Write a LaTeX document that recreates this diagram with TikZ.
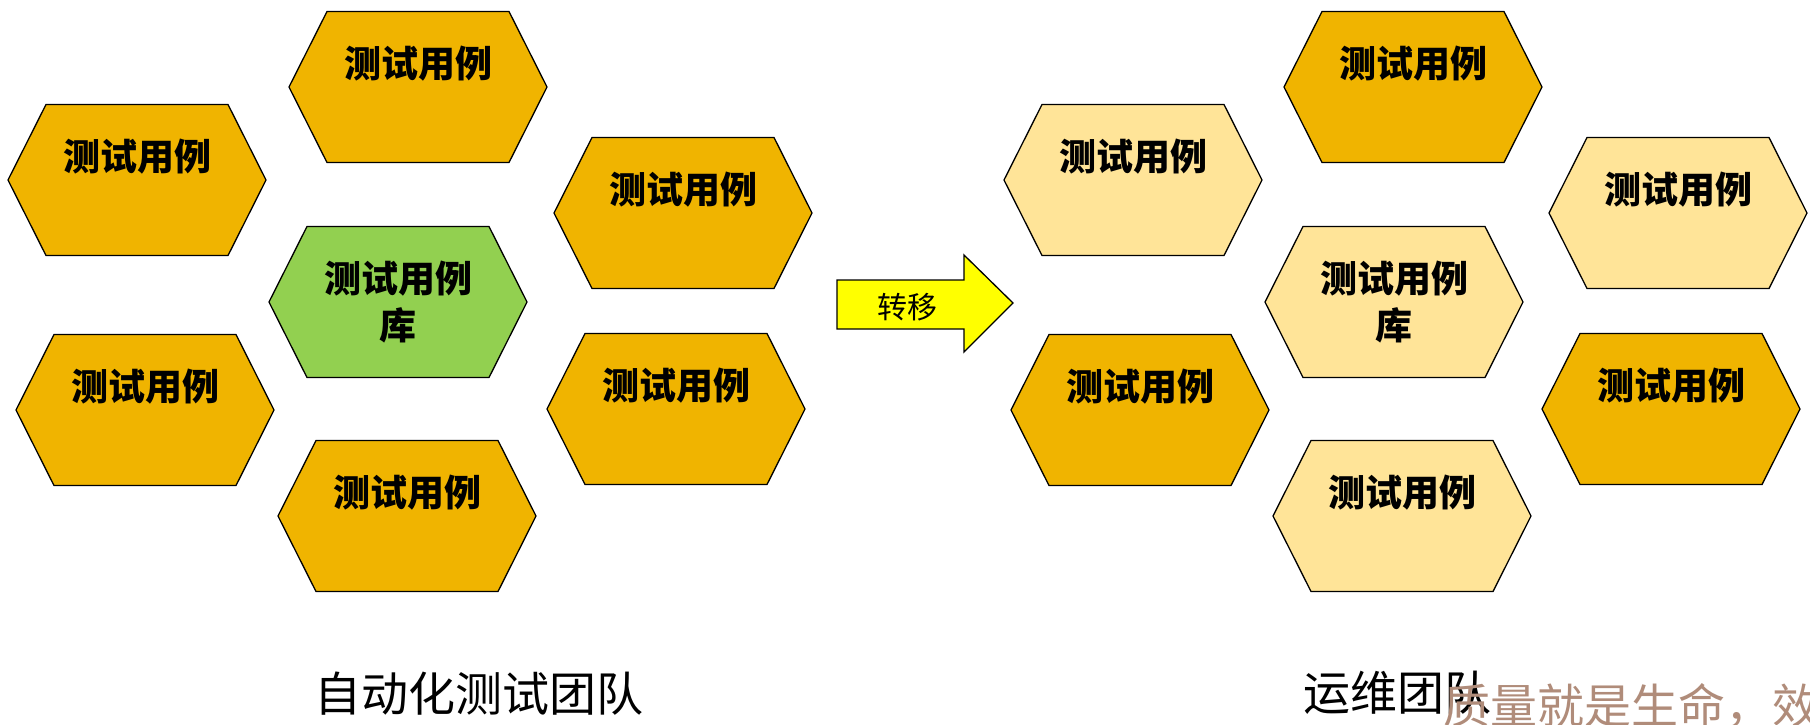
\documentclass[tikz,border=0pt]{standalone}
\usepackage{fontspec}
\newfontfamily\cjk{Noto Sans CJK SC}

\definecolor{caseDark}{RGB}{240,180,0}
\definecolor{caseLight}{RGB}{255,228,152}
\definecolor{libGreen}{RGB}{146,208,80}
\definecolor{moveYellow}{RGB}{255,255,0}
\definecolor{mottoBrown}{RGB}{176,140,122}

\tikzset{
  hexa/.style={draw=black,line width=1.3pt,line join=miter},
  case/.style={font=\cjk\bfseries\fontsize{37}{47}\selectfont,align=center,inner sep=0pt},
  team/.style={font=\cjk\fontsize{47}{50}\selectfont,inner sep=0pt}
}

\begin{document}
\begin{tikzpicture}[x=1pt,y=-1pt]
      \useasboundingbox (0,0) rectangle (1810,724);

      % hexagons: name/x/y/fill/label shift/label
      \foreach \n/\x/\y/\c/\dy/\t in {caseA/418/87/caseDark/-23/测试用例,
                                      caseB/137/180/caseDark/-23/测试用例,
                                      libL/398/302/libGreen/0/测试用例\\库,
                                      caseD/683/213/caseDark/-23/测试用例,
                                      caseE/145/410/caseDark/-23/测试用例,
                                      caseF/676/409/caseDark/-23/测试用例,
                                      caseG/407/516/caseDark/-23/测试用例,
                                      caseH/1413/87/caseDark/-23/测试用例,
                                      caseI/1133/180/caseLight/-23/测试用例,
                                      libR/1394/302/caseLight/0/测试用例\\库,
                                      caseK/1678/213/caseLight/-23/测试用例,
                                      caseL/1140/410/caseDark/-23/测试用例,
                                      caseM/1671/409/caseDark/-23/测试用例,
                                      caseN/1402/516/caseLight/-23/测试用例}
      {\filldraw[hexa,fill=\c] (\x-129,\y) -- (\x-91,\y-75.5) -- (\x+91,\y-75.5)
            -- (\x+129,\y) -- (\x+91,\y+75.5) -- (\x-91,\y+75.5) -- cycle;
       \node[case] (\n) at (\x,\y+\dy) {\t};
      };

      % transfer arrow
      \filldraw[hexa,fill=moveYellow] (837,280) -- (964,280) -- (964,255) -- (1013,303)
            -- (964,352) -- (964,329) -- (837,329) -- cycle;
      \node[font=\cjk\fontsize{30}{34}\selectfont,inner sep=0pt] (move) at (907,307) {转移};

      \node[team] (teamAuto) at (479,694) {自动化测试团队};
      \node[team] (teamOps) at (1397,693) {运维团队};
      \node[font=\cjk\fontsize{47}{48}\selectfont,text=mottoBrown,anchor=west,inner sep=0pt]
        (motto) at (1443,706) {质量就是生命\makebox[1em][l]{，}效};
    \end{tikzpicture}
\end{document}
